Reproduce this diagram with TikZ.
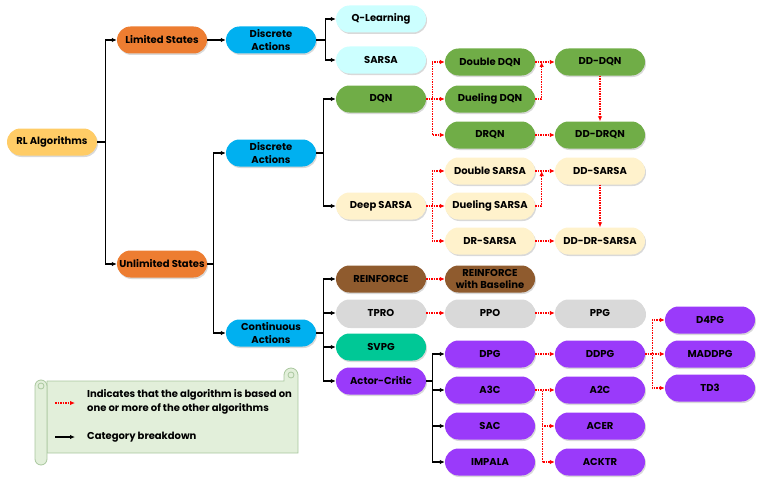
\documentclass[tikz,border=0pt]{standalone}
\usepackage{fontspec}
\setmainfont{Poppins}
\usetikzlibrary{calc,shadows,arrows.meta}
\definecolor{rootcol}{HTML}{FFCC66}
\definecolor{statecol}{HTML}{ED7D31}
\definecolor{actcol}{HTML}{00B0F0}
\definecolor{tabcol}{HTML}{CCFFFF}
\definecolor{dqncol}{HTML}{70AD47}
\definecolor{sarsacol}{HTML}{FFF2CC}
\definecolor{reinfcol}{HTML}{8F5B2E}
\definecolor{ppocol}{HTML}{D9D9D9}
\definecolor{svpgcol}{HTML}{00C896}
\definecolor{accol}{HTML}{9A3AFA}
\definecolor{scrollfill}{HTML}{E2EFDA}
\definecolor{scrolldraw}{HTML}{A9C79E}
\newcommand{\txtdisc}{Discrete\\Actions}
\newcommand{\txtcont}{Continuous\\Actions}
\newcommand{\txtbase}{REINFORCE\\with Baseline}

\begin{document}
\begin{tikzpicture}[x=1pt,y=-1pt,
	any/.style={rectangle,rounded corners=13.5pt,minimum width=90pt,minimum height=27pt,%
		inner sep=1pt,align=center,font=\fontsize{10}{12.5}\selectfont\bfseries,%
		drop shadow={shadow xshift=1pt,shadow yshift=-1.5pt,opacity=0.3}},
	mycolor/.style={any,fill=#1},
	cat/.style={draw=black,line width=1.2pt,-{Latex[length=5pt,width=4.5pt]}},
	based/.style={draw=red,line width=1.1pt,dash pattern=on 1.5pt off 1pt,%
		-{Latex[length=5pt,width=4.5pt]}},
	legendscroll/.style={draw=scrolldraw,fill=scrollfill,line width=0.8pt},
	legendtext/.style={font=\fontsize{10}{14}\selectfont\bfseries,inner sep=0pt}
	]
	\useasboundingbox (0,0) rectangle (768,487);

	% categories
	\node[mycolor=rootcol] (RL) at (52,142) {RL Algorithms};
	\node[mycolor=statecol] (Lim) at (162,40) {Limited States};
	\node[mycolor=statecol] (Unlim) at (162,264) {Unlimited States};
	\node[mycolor=actcol] (DiscA) at (271,40) {\txtdisc};
	\node[mycolor=actcol] (DiscB) at (271,153) {\txtdisc};
	\node[mycolor=actcol] (Cont) at (271,333) {\txtcont};

	% algorithms
	\node[mycolor=tabcol] (QL) at (381,19) {Q-Learning};
	\node[mycolor=tabcol] (SARSA) at (381,60) {SARSA};
	\node[mycolor=dqncol] (DQN) at (381,99) {DQN};
	\node[mycolor=dqncol] (DblDQN) at (490,62) {Double DQN};
	\node[mycolor=dqncol] (DuelDQN) at (490,99) {Dueling DQN};
	\node[mycolor=dqncol] (DRQN) at (490,135) {DRQN};
	\node[mycolor=dqncol] (DDDQN) at (600,62) {DD-DQN};
	\node[mycolor=dqncol] (DDDRQN) at (600,135) {DD-DRQN};
	\node[mycolor=sarsacol] (DeepS) at (381,206) {Deep SARSA};
	\node[mycolor=sarsacol] (DblS) at (490,171) {Double SARSA};
	\node[mycolor=sarsacol] (DuelS) at (490,206) {Dueling SARSA};
	\node[mycolor=sarsacol] (DRS) at (490,241) {DR-SARSA};
	\node[mycolor=sarsacol] (DDS) at (600,171) {DD-SARSA};
	\node[mycolor=sarsacol] (DDDRS) at (600,241) {DD-DR-SARSA};
	\node[mycolor=reinfcol] (Reinf) at (381,279) {REINFORCE};
	\node[mycolor=reinfcol] (ReinfB) at (490,279) {\txtbase};
	\node[mycolor=ppocol] (TPRO) at (381,313) {TPRO};
	\node[mycolor=ppocol] (PPO) at (490,313) {PPO};
	\node[mycolor=ppocol] (PPG) at (600,313) {PPG};
	\node[mycolor=svpgcol] (SVPG) at (381,347) {SVPG};
	\node[mycolor=accol] (AC) at (381,381) {Actor-Critic};
	\node[mycolor=accol] (DPG) at (490,354) {DPG};
	\node[mycolor=accol] (DDPG) at (600,354) {DDPG};
	\node[mycolor=accol] (D4PG) at (710,320) {D4PG};
	\node[mycolor=accol] (MADDPG) at (710,354) {MADDPG};
	\node[mycolor=accol] (TD3) at (710,388) {TD3};
	\node[mycolor=accol] (A3C) at (490,390) {A3C};
	\node[mycolor=accol] (SAC) at (490,426) {SAC};
	\node[mycolor=accol] (IMPALA) at (490,462) {IMPALA};
	\node[mycolor=accol] (A2C) at (600,390) {A2C};
	\node[mycolor=accol] (ACER) at (600,426) {ACER};
	\node[mycolor=accol] (ACKTR) at (600,462) {ACKTR};

	% category breakdown
	\foreach \n in {Lim,Unlim} \draw[cat] (RL.east) -- ++(8,0) |- (\n.west);
	\draw[cat] (Lim) -- (DiscA);
	\foreach \n in {DiscB,Cont} \draw[cat] (Unlim.east) -- ++(6,0) |- (\n.west);
	\foreach \n in {QL,SARSA} \draw[cat] (DiscA.east) -- ++(9,0) |- (\n.west);
	\foreach \n in {DQN,DeepS} \draw[cat] (DiscB.east) -- ++(7,0) |- (\n.west);
	\foreach \n in {Reinf,TPRO,SVPG,AC} \draw[cat] (Cont.east) -- ++(7,0) |- (\n.west);
	\foreach \n in {DPG,A3C,SAC,IMPALA} \draw[cat] (AC.east) -- ++(6,0) |- (\n.west);

	% based on
	\foreach \n in {DblDQN,DuelDQN,DRQN} \draw[based] (DQN.east) -- ++(6,0) |- (\n.west);
	\draw[based] (DblDQN) -- (DDDQN);
	\draw[based] (DuelDQN.east) -| ($(DblDQN.east)!0.33!(DDDQN.west)$);
	\draw[based] (DRQN) -- (DDDRQN);
	\draw[based] (DDDQN) -- (DDDRQN);
	\foreach \n in {DblS,DuelS,DRS} \draw[based] (DeepS.east) -- ++(6,0) |- (\n.west);
	\draw[based] (DblS) -- (DDS);
	\draw[based] (DuelS.east) -| ($(DblS.east)!0.33!(DDS.west)$);
	\draw[based] (DRS) -- (DDDRS);
	\draw[based] (DDS) -- (DDDRS);
	\draw[based] (Reinf) -- (ReinfB);
	\draw[based] (TPRO) -- (PPO);
	\draw[based] (PPO) -- (PPG);
	\draw[based] (DPG) -- (DDPG);
	\foreach \n in {D4PG,MADDPG,TD3} \draw[based] (DDPG.east) -- ++(7,0) |- (\n.west);
	\foreach \n in {A2C,ACER,ACKTR} \draw[based] (A3C.east) -- ++(7,0) |- (\n.west);

	% legend
	\draw[legendscroll] (47,381) -- (284,381) -- (284,375)
		arc[start angle=180,end angle=0,radius=7pt] -- (298,453) -- (47,453) -- cycle;
	\draw[legendscroll] (291,375) circle[radius=3pt];
	\draw[legendscroll] (35,386) arc[start angle=180,end angle=0,radius=6pt]
		-- (47,459) arc[start angle=0,end angle=-180,radius=6pt] -- cycle;
	\draw[legendscroll] (41,386) circle[radius=3pt];
	\coordinate (lgA) at (55,403);
	\coordinate (lgB) at (75,403);
	\coordinate (lgC) at (55,437);
	\coordinate (lgD) at (75,437);
	\draw[based] (lgA) -- (lgB);
	\draw[cat] (lgC) -- (lgD);
	\node[legendtext,anchor=west,align=left] (lgTxtA) at (87,402)
		{Indicates that the algorithm is based on\\one or more of the other algorithms};
	\node[legendtext,anchor=west] (lgTxtB) at (87,437) {Category breakdown};
\end{tikzpicture}
\end{document}
